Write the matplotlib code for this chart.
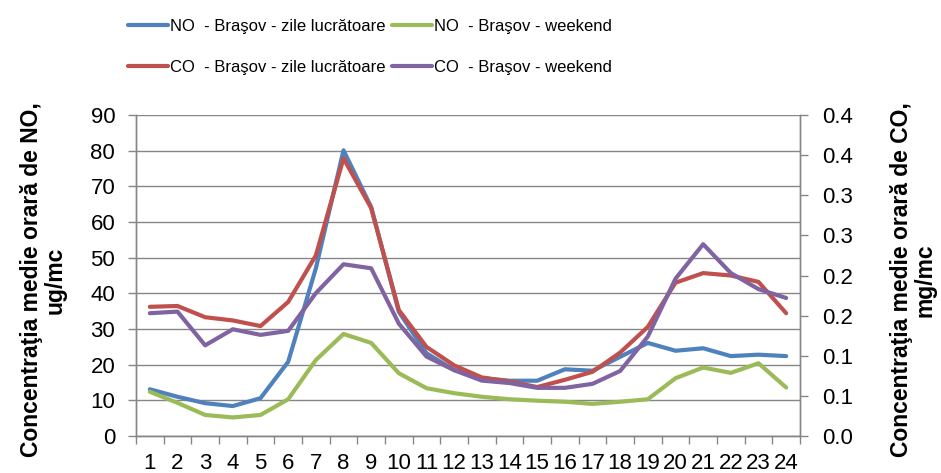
import matplotlib
matplotlib.use("Agg")
import matplotlib.pyplot as plt
from matplotlib.ticker import FixedLocator, FixedFormatter

plt.rcParams['font.family'] = ['Liberation Sans', 'DejaVu Sans']

hours = list(range(1, 25))
hour_labels = [str(h) for h in hours]

no_weekday = [13.1, 11.0, 9.2, 8.4, 10.6, 20.8, 47.0, 80.1, 64.2, 34.8, 23.2, 18.5,
              16.2, 15.5, 15.5, 18.7, 18.3, 22.2, 26.1, 23.9, 24.6, 22.4, 22.8, 22.4]
no_weekend = [12.4, 9.3, 5.9, 5.2, 5.9, 10.3, 21.3, 28.6, 26.1, 17.6, 13.4, 12.0,
              11.0, 10.3, 9.9, 9.6, 9.0, 9.6, 10.3, 16.2, 19.2, 17.7, 20.4, 13.6]
co_weekday = [0.161, 0.162, 0.148, 0.144, 0.137, 0.167, 0.225, 0.346, 0.284, 0.157, 0.111, 0.088,
              0.073, 0.068, 0.061, 0.070, 0.080, 0.104, 0.136, 0.191, 0.203, 0.200, 0.192, 0.153]
co_weekend = [0.153, 0.155, 0.113, 0.133, 0.126, 0.131, 0.178, 0.214, 0.209, 0.140, 0.099, 0.082,
              0.069, 0.066, 0.060, 0.060, 0.065, 0.081, 0.124, 0.196, 0.239, 0.203, 0.183, 0.172]

left_ticks = [0, 10, 20, 30, 40, 50, 60, 70, 80, 90]
right_ticks = [0.0, 0.05, 0.10, 0.15, 0.20, 0.25, 0.30, 0.35, 0.40]
right_tick_labels = ["0.0", "0.1", "0.1", "0.2", "0.2", "0.3", "0.3", "0.4", "0.4"]

series_labels = ["NO  - Braşov - zile lucrătoare", "NO  - Braşov - weekend",
                 "CO  - Braşov - zile lucrătoare", "CO  - Braşov - weekend"]
colors = ["#4F81BD", "#9BBB59", "#C0504D", "#8064A2"]

gray = "#868686"
tick_fs = 16
label_fs = 16.5
legend_fs = 12

fig = plt.figure(figsize=(9.41, 4.73), dpi=100)
ax = fig.add_axes([136/941, 1-436/473, (800-136)/941, (436-115)/473])
ax2 = ax.twinx()

kw = dict(lw=3, solid_capstyle='round', solid_joinstyle='round')
l1, = ax.plot(hours, no_weekday, color=colors[0], **kw)
l2, = ax.plot(hours, no_weekend, color=colors[1], **kw)
l3, = ax2.plot(hours, co_weekday, color=colors[2], **kw)
l4, = ax2.plot(hours, co_weekend, color=colors[3], **kw)

ax.set_xlim(0.5, 24.5)
ax.set_ylim(0, 90)
ax2.set_ylim(0, 0.4)

ax.set_yticks(left_ticks)
ax.set_yticklabels([str(t) for t in left_ticks])
ax.yaxis.grid(True, color=gray, lw=1)
ax.set_axisbelow(True)

ax.xaxis.set_major_locator(FixedLocator([h + 0.5 for h in [0] + hours]))
ax.xaxis.set_major_formatter(FixedFormatter([""] * 25))
ax.xaxis.set_minor_locator(FixedLocator(hours))
ax.xaxis.set_minor_formatter(FixedFormatter(hour_labels))
ax.tick_params(axis='x', which='major', length=6, color=gray, width=1, direction='out')
ax.tick_params(axis='x', which='minor', length=0, labelsize=tick_fs, pad=12)
ax.tick_params(axis='y', length=6, color=gray, width=1, labelsize=tick_fs, pad=9)

ax2.yaxis.set_major_locator(FixedLocator(right_ticks))
ax2.yaxis.set_major_formatter(FixedFormatter(right_tick_labels))
ax2.tick_params(axis='y', length=6, color=gray, width=1, labelsize=tick_fs, pad=10)

for a in (ax, ax2):
    a.spines['top'].set_visible(False)
    for s in ('left', 'right', 'bottom'):
        a.spines[s].set_color(gray)
        a.spines[s].set_linewidth(1)

ax.set_ylabel("Concentraţia medie orară de NO,\nug/mc", fontsize=label_fs, fontweight='bold',
              linespacing=1.05, ha='center', va='center', rotation_mode='anchor')
ax.yaxis.set_label_coords((43.5 - 136) / 664, (436 - 280) / 321)
ax2.set_ylabel("Concentraţia medie orară de CO,\nmg/mc", fontsize=label_fs, fontweight='bold',
               linespacing=1.05, rotation=90, ha='center', va='center', rotation_mode='anchor')
ax2.yaxis.set_label_coords((913.5 - 136) / 664, (436 - 280) / 321)

fig.legend([l1, l3, l2, l4], [series_labels[0], series_labels[2], series_labels[1], series_labels[3]],
           loc='upper left', bbox_to_anchor=(128/941, 1 - 19/473),
           ncol=2, frameon=False, fontsize=legend_fs, handlelength=2.4, handletextpad=0.15,
           columnspacing=0.35, labelspacing=1.55, borderaxespad=0.0, borderpad=0.0)

fig.savefig("out.png", dpi=100)
